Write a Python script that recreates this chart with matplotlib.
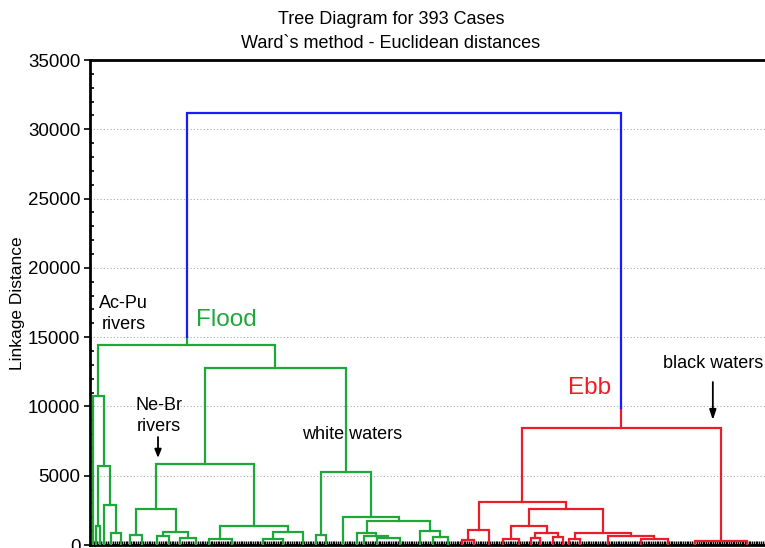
import matplotlib
matplotlib.use("Agg")
import matplotlib.pyplot as plt

# tree data: a node is (linkage distance, left, right), an int is a group of n cases
ac_pu = (10770, 2, (5700, (1390, 2, 2), (2890, 2, (840, 6, 6))))
ne_br = (5840,
         (2600, (720, 4, 10), (910, (650, 7, 6), (500, 7, 10))),
         (1390, (410, 5, 21), (960, (430, 14, 9), 13)))
white_waters = (5270,
                (720, 2, 9),
                (2040, 11, (1730, (890, 5, (650, 2, (500, 13, 13))),
                                  (1030, 10, (600, 4, 13)))))
flood = (14430, ac_pu, (12770, ne_br, white_waters))

ebb_main = (3080,
            (1080, (360, 3, 11), 6),
            (2570, (1370, (410, 9, 10), (890, (480, 3, 7), (550, 8, 3))),
                   (890, (410, 4, 9), (670, 22, (450, 15, 16)))))
black_waters = (310, 14, 45)
ebb = (8440, ebb_main, black_waters)

root_height = 31170
flood_cut = 15030   # blue part ends here on the Flood side
ebb_cut = 9885      # blue part ends here on the Ebb side
n_cases = 393

GREEN = "#1fa83a"
RED = "#ee1c2a"
BLUE = "#1a1aff"
LW = 1.6

fig = plt.figure(figsize=(7.65, 5.48), dpi=100)
ax = fig.add_axes([90 / 765, 3 / 548, 700 / 765, 485 / 548])


def draw(node, start, color):
    """Draws a subtree, returns (x, height, next free leaf index)."""
    if isinstance(node, int):
        return start + (node - 1) / 2, 0.0, start + node
    h, left, right = node
    xl, hl, nxt = draw(left, start, color)
    xr, hr, nxt = draw(right, nxt, color)
    ax.plot([xl, xl, xr, xr], [hl, h, h, hr], color=color, lw=LW,
            solid_joinstyle="miter", zorder=3)
    return (xl + xr) / 2, h, nxt


xf, hf, nxt = draw(flood, 0, GREEN)
xe, he, nxt = draw(ebb, nxt, RED)
ax.plot([xf, xf], [hf, flood_cut], color=GREEN, lw=LW, zorder=3)
ax.plot([xe, xe], [he, ebb_cut], color=RED, lw=LW, zorder=3)
ax.plot([xf, xf, xe, xe], [flood_cut, root_height, root_height, ebb_cut],
        color=BLUE, lw=LW, solid_joinstyle="miter", zorder=3)

ax.set_xlim(-1.13, 394.4)
ax.set_ylim(0, 35000)
ax.set_yticks(range(0, 35001, 5000))
ax.set_yticks(range(0, 35001, 1000), minor=True)
ax.set_xticks(range(n_cases))
ax.set_xticklabels([])
ax.tick_params(axis="x", direction="in", length=3, width=1, color="black")
ax.tick_params(axis="y", which="major", direction="out", length=4, width=1.2,
               labelsize=13.5, pad=3)
ax.tick_params(axis="y", which="minor", direction="in", length=3, width=1.2)
for lab in ax.get_yticklabels():
    lab.set_family(["Liberation Sans", "DejaVu Sans"])
ax.grid(axis="y", which="major", color="#aaaaaa", linestyle=(0, (1, 2)), lw=0.8)
ax.set_axisbelow(True)
for side in ["left", "top", "bottom"]:
    ax.spines[side].set_linewidth(2)
ax.spines["right"].set_visible(False)

font = ["Liberation Sans", "DejaVu Sans"]
fig.text(0.511, 0.965, "Tree Diagram for 393 Cases", ha="center", va="center",
         fontsize=13, family=font)
fig.text(0.511, 0.9215, "Ward`s method - Euclidean distances", ha="center",
         va="center", fontsize=13, family=font)
fig.text(0.0235, 0.447, "Linkage Distance", rotation=90, ha="center",
         va="center", fontsize=12.5, family=font)

ax.text(18, 16670, "Ac-Pu\nrivers", ha="center", va="center", fontsize=13,
        family=font, linespacing=1.3)
ax.text(76, 16230, "Flood", ha="center", va="center", fontsize=17.5,
        color=GREEN, family=font)
ax.text(38, 9300, "Ne-Br\nrivers", ha="center", va="center", fontsize=13,
        family=font, linespacing=1.3)
ax.annotate("", xy=(37.3, 6280), xytext=(37.3, 7790),
            arrowprops=dict(arrowstyle="-|>,head_width=0.2,head_length=0.5",
                            color="black", lw=1.3, shrinkA=0, shrinkB=0))
ax.text(147, 7940, "white waters", ha="center", va="center", fontsize=13,
        family=font)
ax.text(281, 11330, "Ebb", ha="center", va="center", fontsize=17.5,
        color=RED, family=font)
ax.text(351, 13130, "black waters", ha="center", va="center", fontsize=13,
        family=font)
ax.annotate("", xy=(350.8, 9020), xytext=(350.8, 11760),
            arrowprops=dict(arrowstyle="-|>,head_width=0.2,head_length=0.6",
                            color="black", lw=1.3, shrinkA=0, shrinkB=0))

fig.savefig("out.png", dpi=100)
